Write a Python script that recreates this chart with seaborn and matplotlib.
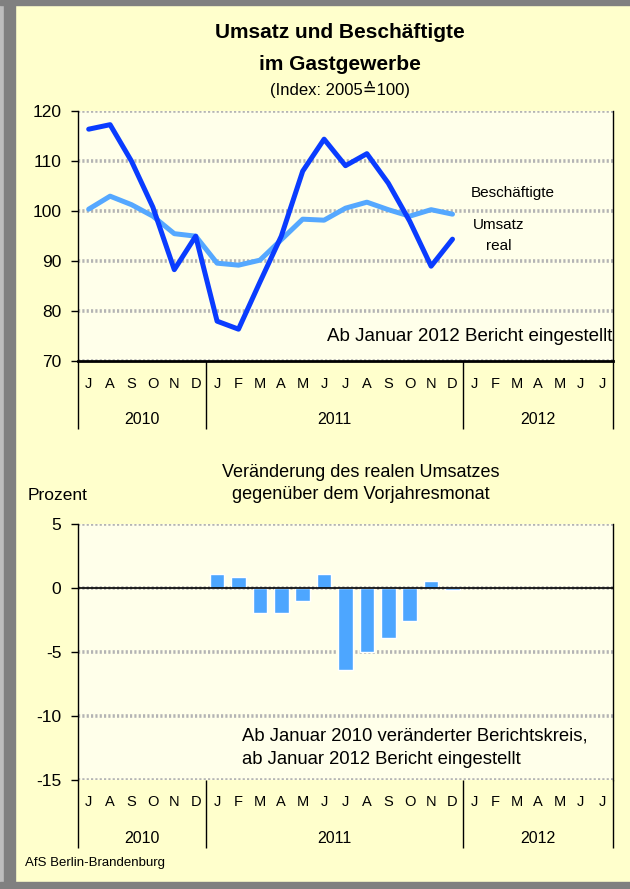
import matplotlib
matplotlib.use("Agg")
import pandas as pd
import seaborn as sns
from matplotlib import pyplot as plt
from matplotlib import transforms
from matplotlib.patches import Rectangle


MONTH_LETTERS = [
    "J", "A", "S", "O", "N", "D",
    "J", "F", "M", "A", "M", "J", "J", "A", "S", "O", "N", "D",
    "J", "F", "M", "A", "M", "J", "J",
]
YEARS = ["2010", "2011", "2012"]
YEAR_MONTHS = [6, 12, 7]

# Index 2005 = 100, Jul 2010 .. Dec 2011
UMSATZ_REAL = [116.3, 117.2, 109.9, 100.7, 88.2, 94.9,
               77.9, 76.3, 85.7, 94.9, 107.9, 114.3,
               109.0, 111.4, 105.5, 97.9, 88.9, 94.3]
BESCHAEFTIGTE = [100.3, 102.9, 101.2, 98.9, 95.4, 94.9,
                 89.5, 89.1, 90.1, 94.2, 98.3, 98.1,
                 100.5, 101.7, 100.2, 98.9, 100.2, 99.3]
# change vs. previous year's month, Jan .. Dec 2011
VERAENDERUNG = [1.1, 0.9, -1.9, -1.9, -1.0, 1.1, -6.4, -5.0, -3.9, -2.6, 0.6, -0.1]

DARK_BLUE = "#0A3CFF"
LIGHT_BLUE = "#55A8FF"
BAR_BLUE = "#4DA6FF"
OUTER_BG = "#FFFFCC"
PLOT_BG = "#FFFFEA"
GRID = "#B4B4B4"


def month_keys() -> list[str]:
    keys = []
    for year, n in zip(YEARS, YEAR_MONTHS):
        start = 7 if year == "2010" else 1
        keys += [f"{year}-{m:02d}" for m in range(start, start + n)]
    return keys


def style_axis(ax, month_pad: float) -> None:
    ax.set_facecolor(PLOT_BG)
    ax.set_axisbelow(True)
    ax.yaxis.grid(True, color=GRID, linestyle=(0, (0.6, 0.6)), linewidth=2.6)
    ax.xaxis.grid(False)
    ax.set_xlim(-0.5, len(MONTH_LETTERS) - 0.5)
    ax.set_xticks(range(len(MONTH_LETTERS)))
    ax.set_xticklabels(MONTH_LETTERS)
    ax.tick_params(axis="x", which="major", bottom=True, length=0,
                   pad=month_pad, labelsize=10.5)
    bounds = [-0.5]
    for n in YEAR_MONTHS:
        bounds.append(bounds[-1] + n)
    ax.set_xticks(bounds, minor=True)
    ax.tick_params(axis="x", which="minor", bottom=True, length=49, width=1,
                   color="black", direction="out")
    ax.tick_params(axis="y", length=5, width=1, color="black", direction="out",
                   pad=7, labelsize=12.5, left=True)
    ax.set_xlabel("")
    ax.set_ylabel("")
    for side in ("left", "right"):
        ax.spines[side].set_visible(True)
        ax.spines[side].set_color("black")
        ax.spines[side].set_linewidth(1)
    ax.spines["top"].set_visible(False)

    trans = transforms.blended_transform_factory(ax.transData, ax.transAxes)
    for i, year in enumerate(YEARS):
        center = (bounds[i] + bounds[i + 1]) / 2
        ax.annotate(year, xy=(center, 0), xycoords=trans, xytext=(0, -42),
                    textcoords="offset points", ha="center", va="center",
                    fontsize=11.5)


def main() -> None:
    sns.set_style("white")
    plt.rcParams["font.family"] = ["Liberation Sans", "DejaVu Sans"]
    plt.rcParams.update({
        "axes.unicode_minus": False,
        "text.color": "black",
        "xtick.color": "black",
        "ytick.color": "black",
        "axes.labelcolor": "black",
    })

    keys = month_keys()
    n_line = len(UMSATZ_REAL)
    line_df = pd.DataFrame({
        "pos": list(range(n_line)) * 2,
        "value": BESCHAEFTIGTE + UMSATZ_REAL,
        "series": ["Beschäftigte"] * n_line + ["Umsatz real"] * n_line,
    })
    bar_df = pd.DataFrame({"month": keys[6:18], "change": VERAENDERUNG})

    fig = plt.figure(figsize=(6.3, 8.89), dpi=100, facecolor=OUTER_BG)
    ax1 = fig.add_axes([0.1238, 0.5943, 0.8492, 0.2812])
    ax2 = fig.add_axes([0.1238, 0.1226, 0.8492, 0.2876])

    # upper panel: index lines
    sns.lineplot(data=line_df, x="pos", y="value", hue="series",
                 palette={"Beschäftigte": LIGHT_BLUE, "Umsatz real": DARK_BLUE},
                 linewidth=3.6, legend=False, ax=ax1)
    style_axis(ax1, month_pad=12)
    ax1.set_ylim(70, 120)
    ax1.set_yticks(range(70, 121, 10))
    ax1.spines["bottom"].set_visible(True)
    ax1.spines["bottom"].set_color("black")
    ax1.spines["bottom"].set_linewidth(2)
    ax1.text(0.813, 0.672, "Beschäftigte", transform=ax1.transAxes,
             ha="center", va="center", fontsize=11)
    ax1.text(0.787, 0.543, "Umsatz", transform=ax1.transAxes,
             ha="center", va="center", fontsize=11)
    ax1.text(0.787, 0.459, "real", transform=ax1.transAxes,
             ha="center", va="center", fontsize=11)
    ax1.text(0.998, 0.096, "Ab Januar 2012 Bericht eingestellt",
             transform=ax1.transAxes, ha="right", va="center", fontsize=13.5)

    # lower panel: change vs. previous year
    sns.barplot(data=bar_df, x="month", y="change", order=keys, color=BAR_BLUE,
                saturation=1, width=0.68, ax=ax2)
    style_axis(ax2, month_pad=11)
    ax2.set_ylim(-15, 5)
    ax2.set_yticks(range(-15, 6, 5))
    ax2.spines["bottom"].set_visible(False)
    ax2.axhline(0, color="black", linewidth=1.2, zorder=1.5)
    ax2.text(0.3065, 0.172, "Ab Januar 2010 veränderter Berichtskreis,",
             transform=ax2.transAxes, ha="left", va="center", fontsize=13.3)
    ax2.text(0.3065, 0.082, "ab Januar 2012 Bericht eingestellt",
             transform=ax2.transAxes, ha="left", va="center", fontsize=13.3)

    # titles and notes
    fig.text(0.54, 0.964, "Umsatz und Beschäftigte", ha="center", va="center",
             fontsize=15, fontweight="bold")
    fig.text(0.54, 0.928, "im Gastgewerbe", ha="center", va="center",
             fontsize=15, fontweight="bold")
    fig.text(0.54, 0.899, "(Index: 2005≙100)", ha="center", va="center",
             fontsize=12)
    fig.text(0.573, 0.468, "Veränderung des realen Umsatzes", ha="center",
             va="center", fontsize=13)
    fig.text(0.573, 0.4443, "gegenüber dem Vorjahresmonat", ha="center",
             va="center", fontsize=13)
    fig.text(0.0444, 0.443, "Prozent", ha="left", va="center", fontsize=12.5)
    fig.text(0.0397, 0.0292, "AfS Berlin-Brandenburg", ha="left", va="center",
             fontsize=9.5)

    # grey frame at left, top and bottom
    fig.add_artist(Rectangle((0, 0), 4 / 630, 1, transform=fig.transFigure,
                             color="#BDBDBD", zorder=0))
    fig.add_artist(Rectangle((4 / 630, 0), 11 / 630, 1, transform=fig.transFigure,
                             color="#808080", zorder=0))
    fig.add_artist(Rectangle((0, 1 - 5 / 889), 1, 5 / 889, transform=fig.transFigure,
                             color="#808080", zorder=0))
    fig.add_artist(Rectangle((0, 0), 1, 7 / 889, transform=fig.transFigure,
                             color="#808080", zorder=0))

    fig.savefig("out.png", dpi=100, facecolor=OUTER_BG)
    plt.close(fig)


if __name__ == "__main__":
    main()
